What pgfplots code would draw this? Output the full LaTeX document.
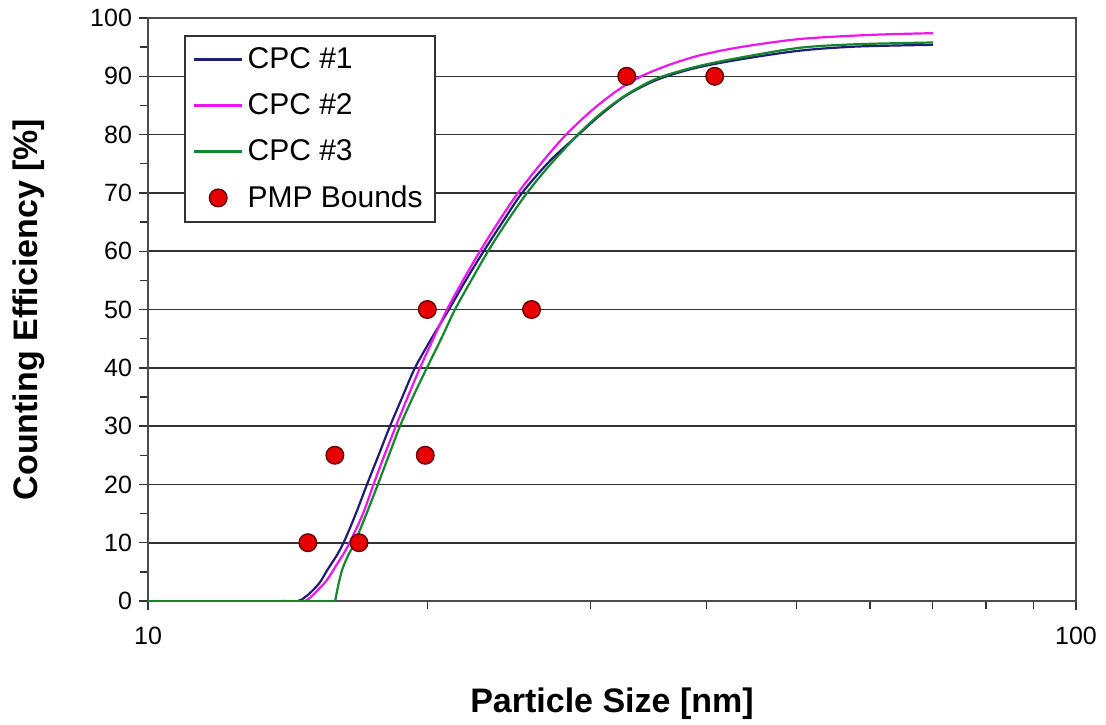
\documentclass[border=0pt]{standalone}
\usepackage{fontspec}
\setmainfont{Liberation Sans}
\usepackage{pgfplots}
\usepackage{pgfplotstable}
\pgfplotsset{compat=1.18}
\definecolor{cpcA}{RGB}{30,30,120}
\definecolor{cpcB}{RGB}{240,20,240}
\definecolor{cpcC}{RGB}{20,135,45}
\definecolor{mkfill}{RGB}{230,0,0}
\definecolor{mkdraw}{RGB}{100,0,0}
\pgfplotsset{
  lineleg/.style={legend image code/.code={\draw[##1, line width=1.4pt] (0pt,0pt) -- (24pt,0pt);}},
  markleg/.style={legend image code/.code={\draw[mark repeat=2, mark phase=2, ##1] plot coordinates {(0pt,0pt) (12pt,0pt) (24pt,0pt)};}},
}
\pgfplotstableread{
x y
14.0 0
14.51 0
14.75 0.6
15.0 1.6
15.32 3.2
15.63 5.5
16.00 8.0
16.30 10.5
16.75 15
17.22 20
17.72 25
18.23 30
18.80 35
19.40 40
20.20 45
21.10 50
22.00 55
23.00 60
24.10 65
25.30 70
27.11 75.5
29.10 80
30.69 83.3
32.60 86.5
34.75 88.9
36.70 90.3
39.34 91.6
43.45 92.9
50.40 94.4
58.00 95.1
70.15 95.4
}\cpcone
\pgfplotstableread{
x y
14.2 0
14.76 0
15.00 0.8
15.20 1.7
15.59 3.6
15.98 6.3
16.30 8.5
16.55 10.5
17.05 15
17.50 20
17.98 25
18.50 30
19.05 35
19.64 40
20.30 45
21.00 50
21.85 55
22.79 60
23.85 65
25.04 70
26.50 75
28.14 79.8
30.00 84.0
32.00 87.5
34.00 90.0
36.50 92.0
39.34 93.6
43.45 95.0
50.42 96.4
60.00 97.1
70.15 97.4
}\cpctwo
\pgfplotstableread{
x y
15.91 0
16.05 3
16.20 5.5
16.45 8
16.70 10
17.20 15
17.69 20
18.18 25
18.69 30
19.30 35
19.98 40
20.70 45
21.42 50
22.30 55
23.25 60
24.35 65
25.61 70
27.11 74.8
29.06 80
30.69 83.5
32.60 86.6
34.75 89.1
36.52 90.4
39.34 91.8
43.45 93.2
50.42 94.9
58.00 95.5
70.15 95.8
}\cpcthree
\pgfplotstableread{
x y
14.87 10
16.88 10
15.90 25
19.90 25
20.00 50
25.90 50
32.80 90
40.80 90
}\pmp
\begin{document}
\begin{tikzpicture}
\path[use as bounding box] (-74pt,-61.5pt) rectangle (479pt,300.5pt);
\begin{axis}[
  at={(0,0)}, anchor=south west,
  scale only axis, width=464pt, height=291.5pt,
  xmode=log, xmin=10, xmax=100, ymin=0, ymax=100,
  xtick={10,100}, xticklabels={10,100},
  minor xtick={20,30,40,50,60,70,80,90},
  ytick={0,10,...,100}, minor ytick={5,15,...,95},
  xtick pos=bottom, ytick pos=left,
  tick align=outside, major tick length=4.5pt, minor tick length=4pt,
  ymajorgrids, major grid style={draw=black!80, line width=0.8pt},
  axis line style={line width=0.8pt, black!70},
  tick style={line width=0.7pt, black!80},
  /pgf/number format/assume math mode=true,
  tick label style={font=\fontsize{12.5}{14}\selectfont},
  xticklabel style={yshift=-5pt},
  xlabel={\textbf{Particle Size [nm]}},
  ylabel={\textbf{Counting Efficiency [\%]}},
  xlabel style={at={(axis description cs:0.5,-0.137)}, anchor=north, font=\fontsize{17}{20}\selectfont},
  ylabel style={at={(axis description cs:-0.1034,0.5)}, anchor=south, font=\fontsize{17}{20}\selectfont},
  legend style={at={(axis description cs:0.0388,0.971)}, anchor=north west,
    draw=black!80, line width=0.8pt, fill=white,
    font=\fontsize{15}{18}\selectfont, row sep=7pt,
    inner xsep=4pt, inner ysep=4pt},
  legend cell align=left,
  lineleg,
]
\addplot[cpcA, line width=1.1pt, smooth] table {\cpcone};
\addlegendentry{CPC \#1}
\addplot[cpcB, line width=1.1pt, smooth] table {\cpctwo};
\addlegendentry{CPC \#2}
\addplot[cpcC, line width=1.1pt, smooth] table {\cpcthree};
\addlegendentry{CPC \#3}
\addplot[cpcA, line width=1.1pt, forget plot] coordinates {(10,0) (14.51,0)};
\addplot[cpcB, line width=1.1pt, forget plot] coordinates {(10,0) (14.76,0)};
\addplot[cpcC, line width=1.2pt, forget plot] coordinates {(10,0) (15.91,0)};
\addplot[only marks, mark=*, mark size=4.4pt, mark options={fill=mkfill, draw=mkdraw, line width=0.7pt}, markleg]
  table {\pmp};
\addlegendentry{PMP Bounds}
\end{axis}
\end{tikzpicture}
\end{document}
